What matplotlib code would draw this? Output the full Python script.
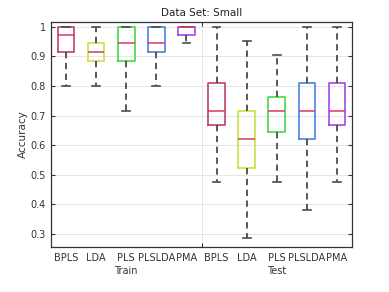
import matplotlib
matplotlib.use("Agg")
import matplotlib.pyplot as plt

methods = ["BPLS", "LDA", "PLS", "PLSLDA", "PMA"]
groups = ["Train", "Test"]
colors = ["#c0406a", "#c8e040", "#48d848", "#4a80e0", "#a048e8"]

# five-number summaries
train_lo = [0.800, 0.800, 0.717, 0.800, 0.944]
train_q1 = [0.914, 0.886, 0.886, 0.914, 0.972]
train_med = [0.972, 0.915, 0.944, 0.944, 1.000]
train_q3 = [1.000, 0.944, 1.000, 1.000, 1.000]
train_hi = [1.000, 1.000, 1.000, 1.000, 1.000]

test_lo = [0.476, 0.286, 0.476, 0.381, 0.476]
test_q1 = [0.667, 0.524, 0.643, 0.619, 0.667]
test_med = [0.714, 0.619, 0.714, 0.714, 0.714]
test_q3 = [0.810, 0.714, 0.762, 0.810, 0.810]
test_hi = [1.000, 0.952, 0.905, 1.000, 1.000]

stats = []
for lo, q1, med, q3, hi in [(train_lo, train_q1, train_med, train_q3, train_hi),
                            (test_lo, test_q1, test_med, test_q3, test_hi)]:
    for i in range(len(methods)):
        stats.append(dict(whislo=lo[i], q1=q1[i], med=med[i], q3=q3[i], whishi=hi[i], fliers=[]))

fig = plt.figure(figsize=(3.89, 2.92), dpi=100)
ax = fig.add_axes([0.131, 0.154, 0.774, 0.771])

positions = list(range(1, len(stats) + 1))
bp = ax.bxp(stats, positions=positions, widths=0.55, showfliers=False, patch_artist=False,
            whiskerprops=dict(color="#4a4a4a", linestyle=(0, (3.5, 2.5)), linewidth=1.3),
            capprops=dict(color="#4a4a4a", linewidth=1.2),
            medianprops=dict(color="#d83a5a", linewidth=1.1),
            boxprops=dict(linewidth=1.2))
for k, box in enumerate(bp["boxes"]):
    box.set_color(colors[k % len(methods)])
for cap in bp["caps"]:
    x0, x1 = cap.get_xdata()
    c = (x0 + x1) / 2
    cap.set_xdata([c - 0.13, c + 0.13])

ax.set_xlim(0.5, 10.5)
ax.set_ylim(0.255, 1.017)
ax.set_yticks([0.3, 0.4, 0.5, 0.6, 0.7, 0.8, 0.9, 1.0])
ax.set_yticklabels(["0.3", "0.4", "0.5", "0.6", "0.7", "0.8", "0.9", "1"])
ax.set_xticks([5.5])
ax.set_xticklabels([""])
ax.set_xticks(positions, minor=True)
ax.set_xticklabels(methods * 2, minor=True)
ax.tick_params(axis="x", which="minor", length=0, pad=4)
ax.tick_params(axis="both", which="major", direction="in", length=3, top=True, right=True,
               color="#333333")
ax.tick_params(labelsize=7, colors="#333333", which="both")
ax.grid(True, which="major", color="#e6e6e6", linewidth=0.7)
ax.set_axisbelow(True)
for s in ax.spines.values():
    s.set_color("#333333")
    s.set_linewidth(0.9)

ax.text(3, -0.085, groups[0], transform=ax.get_xaxis_transform(), ha="center", va="top",
        fontsize=7, color="#333333")
ax.text(8, -0.085, groups[1], transform=ax.get_xaxis_transform(), ha="center", va="top",
        fontsize=7, color="#333333")
ax.set_ylabel("Accuracy", fontsize=7.5, color="#333333", labelpad=2)
ax.set_title("Data Set: Small", fontsize=7.5, color="#222222", pad=4)

fig.savefig("out.png", dpi=100)
